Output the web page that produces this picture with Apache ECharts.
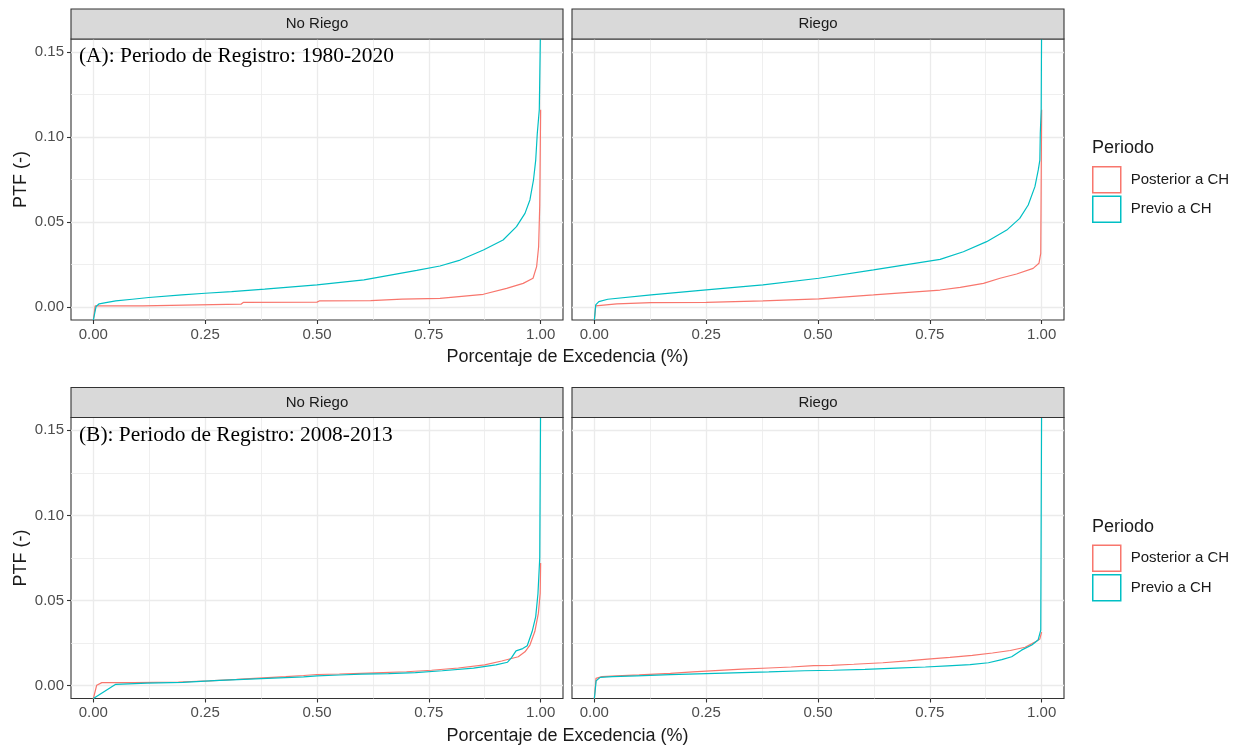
<!DOCTYPE html>
<html>
<head>
<meta charset="utf-8">
<script src="https://cdn.jsdelivr.net/npm/echarts@6/dist/echarts.min.js"></script>
<style>
  html, body { margin: 0; padding: 0; background: #ffffff; }
  #chart { width: 1241px; height: 748px; }
</style>
</head>
<body>
<div id="chart"></div>
<script>
// Facet labels, row notes, legend entries and axis ticks
const facets = ['No Riego', 'Riego'];
const rowNotes = ['(A): Periodo de Registro: 1980-2020', '(B): Periodo de Registro: 2008-2013'];
const periods = ['Posterior a CH', 'Previo a CH'];
const xTicks = [0, 0.25, 0.5, 0.75, 1];
const xMinor = [0.125, 0.375, 0.625, 0.875];
const yTicks = [0, 0.05, 0.10, 0.15];
const yMinor = [0.025, 0.075, 0.125];
const xRange = [-0.05, 1.05];
const yRange = [-0.0075, 0.1575];

// Duration curves: [exceedance, PTF] pairs
// Row A (1980-2020)
const aNoRiegoPosterior = [[0,-0.0075],[0.004,0.0008],[0.11,0.0008],[0.113,0.0018],[0.33,0.0018],[0.335,0.0028],[0.5,0.003],[0.505,0.0037],[0.62,0.0039],[0.69,0.0047],[0.775,0.0052],[0.872,0.0076],[0.924,0.0111],[0.961,0.014],[0.983,0.017],[0.991,0.0238],[0.9955,0.0355],[0.998,0.06],[1.0,0.116]];
const aNoRiegoPrevio = [[0,-0.0075],[0.006,0.0004],[0.013,0.002],[0.028,0.0027],[0.05,0.0037],[0.087,0.0047],[0.124,0.0057],[0.198,0.0073],[0.25,0.0082],[0.309,0.0092],[0.383,0.0106],[0.5,0.0131],[0.605,0.0161],[0.723,0.0216],[0.775,0.0242],[0.82,0.0277],[0.872,0.0336],[0.916,0.0395],[0.946,0.0473],[0.965,0.0551],[0.976,0.063],[0.984,0.0747],[0.989,0.0864],[0.9925,0.102],[0.997,0.116],[1.0,0.17]];
const aRiegoPosterior = [[0,-0.0075],[0.003,0.0008],[0.05,0.002],[0.127,0.0027],[0.25,0.0029],[0.377,0.0037],[0.502,0.0049],[0.624,0.0072],[0.773,0.0101],[0.818,0.0117],[0.87,0.014],[0.907,0.017],[0.944,0.0195],[0.981,0.0228],[0.994,0.0258],[0.998,0.0316],[1.0,0.116]];
const aRiegoPrevio = [[0,-0.0075],[0.003,0.0014],[0.01,0.0033],[0.03,0.0047],[0.127,0.0072],[0.25,0.0102],[0.377,0.0131],[0.502,0.017],[0.624,0.0219],[0.773,0.0281],[0.825,0.0326],[0.877,0.0385],[0.922,0.0453],[0.951,0.0522],[0.97,0.06],[0.985,0.0708],[0.9925,0.0806],[0.996,0.0864],[0.997,0.102],[0.999,0.116],[1.0,0.17]];
// Row B (2008-2013)
const bNoRiegoPosterior = [[0,-0.0075],[0.0075,0.0003],[0.019,0.0018],[0.09,0.0018],[0.19,0.0022],[0.26,0.0029],[0.32,0.0037],[0.37,0.0045],[0.43,0.0053],[0.47,0.006],[0.5,0.0066],[0.55,0.0069],[0.63,0.0076],[0.70,0.0082],[0.756,0.0091],[0.816,0.0104],[0.875,0.0122],[0.913,0.0145],[0.95,0.017],[0.965,0.0199],[0.976,0.0239],[0.987,0.0318],[0.995,0.0426],[0.999,0.0543],[1.0,0.072]];
const bNoRiegoPrevio = [[0,-0.0075],[0.05,0.0008],[0.12,0.0015],[0.2,0.002],[0.27,0.003],[0.375,0.0042],[0.47,0.0052],[0.5,0.0058],[0.55,0.0063],[0.6,0.0068],[0.66,0.0071],[0.72,0.0077],[0.78,0.0088],[0.85,0.0103],[0.9,0.0122],[0.926,0.0138],[0.935,0.0165],[0.945,0.0205],[0.96,0.0218],[0.97,0.0235],[0.981,0.0318],[0.989,0.0406],[0.994,0.054],[0.998,0.075],[1.0,0.17]];
const bRiegoPosterior = [[0,-0.0075],[0.0036,0.0043],[0.017,0.0053],[0.05,0.0058],[0.1,0.0064],[0.17,0.0073],[0.22,0.0081],[0.27,0.0089],[0.33,0.0097],[0.39,0.0104],[0.44,0.011],[0.49,0.0118],[0.53,0.012],[0.58,0.0126],[0.645,0.0135],[0.70,0.0146],[0.745,0.0156],[0.795,0.0166],[0.845,0.0178],[0.89,0.0192],[0.93,0.0207],[0.963,0.0226],[0.985,0.0256],[0.996,0.0275],[1.0,0.0315]];
const bRiegoPrevio = [[0,-0.0075],[0.004,0.0029],[0.013,0.0049],[0.04,0.0053],[0.095,0.0058],[0.17,0.0065],[0.27,0.0073],[0.39,0.0081],[0.47,0.0088],[0.535,0.0091],[0.605,0.0096],[0.675,0.0103],[0.74,0.011],[0.79,0.0117],[0.84,0.0124],[0.881,0.0135],[0.911,0.0153],[0.933,0.017],[0.955,0.0209],[0.978,0.0239],[0.992,0.0268],[0.998,0.0327],[1.0,0.17]];

// curves per [row][facet] = [posterior, previo]
const curves = [
  [[aNoRiegoPosterior, aNoRiegoPrevio], [aRiegoPosterior, aRiegoPrevio]],
  [[bNoRiegoPosterior, bNoRiegoPrevio], [bRiegoPosterior, bRiegoPrevio]]
];

// Styling and layout
const COLORS = ['#F8766D', '#00BFC4'];
const SANS = '"Liberation Sans", Arial, sans-serif';
const SERIF = '"Liberation Serif", "Times New Roman", serif';
const PANEL_W = 492, PANEL_H = 281, STRIP_H = 30;
const PANEL_LEFT = [71, 572];
const PANEL_TOP = [39, 417.5];
const LEGEND_LEFT = 1092;

const grids = [], xAxes = [], yAxes = [], series = [], graphics = [], legends = [];
const fmt2 = v => Number(v).toFixed(2);

for (let r = 0; r < 2; r++) {
  for (let c = 0; c < 2; c++) {
    const g = r * 2 + c;
    const left = PANEL_LEFT[c], top = PANEL_TOP[r];
    grids.push({
      left: left, top: top, width: PANEL_W, height: PANEL_H,
      show: true, backgroundColor: '#ffffff', borderColor: '#333333', borderWidth: 1.1,
      containLabel: false, outerBoundsMode: 'none'
    });
    // major x axis with ticks and labels
    xAxes.push({
      type: 'value', gridIndex: g, min: xRange[0], max: xRange[1], position: 'bottom',
      axisLine: { show: false, onZero: false },
      axisTick: { show: true, length: 4, customValues: xTicks, lineStyle: { color: '#333333', width: 1.1 } },
      axisLabel: { show: true, customValues: xTicks, formatter: fmt2, color: '#4D4D4D', fontSize: 15, fontFamily: SANS, margin: 7 },
      splitLine: { show: true, lineStyle: { color: '#EBEBEB', width: 1.3 } }
    });
    // minor x grid lines
    xAxes.push({
      type: 'value', gridIndex: g, min: xRange[0], max: xRange[1], position: 'top',
      axisLine: { show: false, onZero: false },
      axisTick: { show: false, customValues: xMinor },
      axisLabel: { show: false, customValues: xMinor },
      splitLine: { show: true, lineStyle: { color: '#EBEBEB', width: 0.8 } }
    });
    // major y axis
    yAxes.push({
      type: 'value', gridIndex: g, min: yRange[0], max: yRange[1], position: 'left',
      axisLine: { show: false, onZero: false },
      axisTick: { show: c === 0, length: 4, customValues: yTicks, lineStyle: { color: '#333333', width: 1.1 } },
      axisLabel: { show: c === 0, customValues: yTicks, formatter: fmt2, color: '#4D4D4D', fontSize: 15, fontFamily: SANS, margin: 7 },
      splitLine: { show: true, lineStyle: { color: '#EBEBEB', width: 1.3 } }
    });
    // minor y grid lines
    yAxes.push({
      type: 'value', gridIndex: g, min: yRange[0], max: yRange[1], position: 'right',
      axisLine: { show: false, onZero: false },
      axisTick: { show: false, customValues: yMinor },
      axisLabel: { show: false, customValues: yMinor },
      splitLine: { show: true, lineStyle: { color: '#EBEBEB', width: 0.8 } }
    });

    curves[r][c].forEach((pts, k) => {
      series.push({
        name: periods[k], type: 'line', xAxisIndex: g * 2, yAxisIndex: g * 2,
        data: pts, showSymbol: false, symbol: 'none', clip: true,
        lineStyle: { color: COLORS[k], width: 1.2 },
        itemStyle: { color: COLORS[k] },
        z: 3 + k, silent: true, animation: false
      });
    });

    // facet strip
    graphics.push({
      type: 'rect', z: 10,
      shape: { x: left, y: top - STRIP_H, width: PANEL_W, height: STRIP_H },
      style: { fill: '#D9D9D9', stroke: '#333333', lineWidth: 1.1 }
    });
    graphics.push({
      type: 'text', z: 11, x: left + PANEL_W / 2, y: top - STRIP_H / 2,
      style: { text: facets[c], fill: '#1A1A1A', font: '15px ' + SANS,
               textAlign: 'center', textVerticalAlign: 'middle', align: 'center', verticalAlign: 'middle' }
    });
  }

  const top = PANEL_TOP[r];
  // row note in the first facet
  graphics.push({
    type: 'text', z: 12, x: PANEL_LEFT[0] + 8, y: top + 17.5,
    style: { text: rowNotes[r], fill: '#000000', font: '21.4px ' + SERIF,
             textAlign: 'left', textVerticalAlign: 'middle', align: 'left', verticalAlign: 'middle' }
  });
  // x axis title
  graphics.push({
    type: 'text', z: 12, x: (PANEL_LEFT[0] + PANEL_LEFT[1] + PANEL_W) / 2, y: top + PANEL_H + 37.5,
    style: { text: 'Porcentaje de Excedencia (%)', fill: '#1A1A1A', font: '18px ' + SANS,
             textAlign: 'center', textVerticalAlign: 'middle', align: 'center', verticalAlign: 'middle' }
  });
  // y axis title
  graphics.push({
    type: 'text', z: 12, x: 21, y: top + PANEL_H / 2, rotation: Math.PI / 2,
    style: { text: 'PTF (-)', fill: '#1A1A1A', font: '18px ' + SANS,
             textAlign: 'center', textVerticalAlign: 'middle', align: 'center', verticalAlign: 'middle' }
  });
  // legend title
  graphics.push({
    type: 'text', z: 12, x: LEGEND_LEFT, y: top + 109.5,
    style: { text: 'Periodo', fill: '#1A1A1A', font: '18px ' + SANS,
             textAlign: 'left', textVerticalAlign: 'middle', align: 'left', verticalAlign: 'middle' }
  });
  legends.push({
    orient: 'vertical', left: LEGEND_LEFT, top: top + 127, padding: 0,
    itemWidth: 28, itemHeight: 26, itemGap: 2, selectedMode: false,
    textStyle: { fontSize: 15, color: '#1A1A1A', fontFamily: SANS, padding: [0, 0, 0, 5] },
    data: periods.map((p, k) => ({
      name: p, icon: 'rect',
      itemStyle: { color: '#ffffff', borderColor: COLORS[k], borderWidth: 1.5 }
    }))
  });
}

const chart = echarts.init(document.getElementById('chart'), null, { renderer: 'canvas' });
chart.setOption({
  backgroundColor: '#ffffff',
  animation: false,
  grid: grids,
  xAxis: xAxes,
  yAxis: yAxes,
  legend: legends,
  series: series,
  graphic: graphics
});
</script>
</body>
</html>
